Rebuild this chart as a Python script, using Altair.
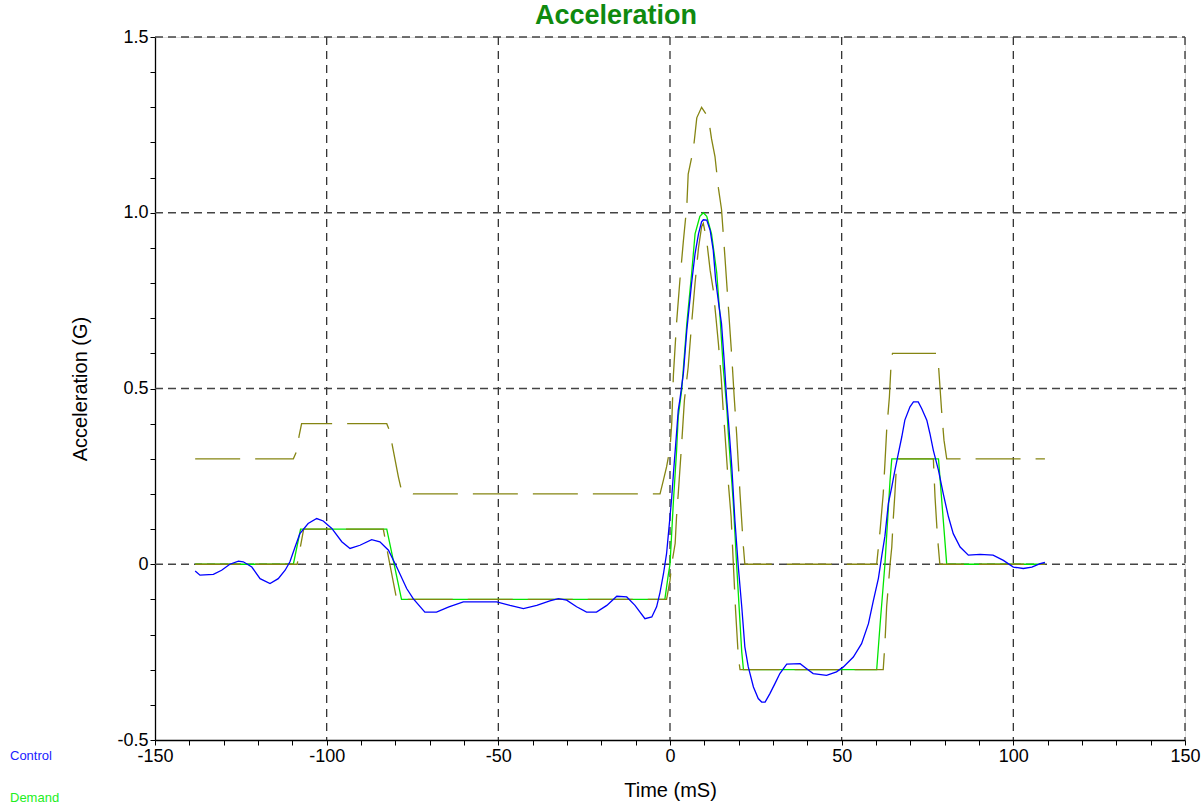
import altair as alt
import pandas as pd
import numpy as np

# ---- data ----
demand_t = [-138.3, -109.7, -107.6, -82.5, -78.2, -1.5, -0.5, 0.0, 1.0, 1.9, 2.4, 3.4, 4.9, 6.3, 7.3, 8.7, 9.7,
            10.7, 12.1, 13.6, 14.6, 15.5, 16.5, 17.0, 18.4, 19.4, 20.9, 21.4, 60.2, 61.2, 62.6, 64.1, 64.6,
            78.2, 80.6, 109.2]
demand_v = [0.0, 0.0, 0.1, 0.1, -0.1, -0.1, -0.03, 0.0, 0.18, 0.32, 0.42, 0.495, 0.685, 0.827, 0.94, 0.99, 1.0,
            0.99, 0.94, 0.83, 0.70, 0.56, 0.45, 0.37, 0.18, 0.0, -0.25, -0.3, -0.3, -0.17, 0.0, 0.24, 0.3,
            0.3, 0.0, 0.0]

upper_t = [-138.3, -109.7, -108.8, -108.0, -107.3, -82.5, -81.7, -80.6, -79.1, -78.2, -74.8, -2.9, -1.9, -1.0,
           0.0, 0.5, 1.0, 1.9, 2.9, 3.9, 4.9, 5.3, 6.8, 7.8, 9.2, 11.2, 12.1, 13.1, 14.1, 15.0, 16.0, 17.0,
           18.0, 18.7, 19.4, 20.4, 21.3, 21.8, 60.2, 61.2, 62.1, 62.6, 63.1, 63.9, 64.3, 64.8, 77.5, 78.2,
           79.1, 79.8, 80.6, 109.2]
upper_v = [0.3, 0.3, 0.32, 0.367, 0.4, 0.4, 0.381, 0.324, 0.248, 0.21, 0.2, 0.2, 0.24, 0.277,
           0.33, 0.40, 0.54, 0.685, 0.81, 0.92, 1.02, 1.11, 1.18, 1.27, 1.30, 1.27, 1.21, 1.16, 1.07, 1.01,
           0.874, 0.732, 0.59, 0.476, 0.372, 0.2, 0.059, 0.0, 0.0, 0.097, 0.2, 0.287, 0.38, 0.476, 0.552,
           0.6, 0.6, 0.566, 0.438, 0.353, 0.3, 0.3]

lower_t = [-138.3, -108.6, -106.7, -83.5, -82.0, -79.6, -1.0, 0.0, 0.5, 1.5, 1.9, 2.4, 3.4, 4.2, 5.3, 6.3,
           7.3, 8.3, 9.2, 9.7, 10.7, 11.7, 12.6, 13.4, 14.1, 14.9, 15.5, 16.0, 17.0, 17.8, 18.4, 19.1,
           19.9, 20.4, 62.1, 62.6, 63.1, 64.1, 64.6, 65.0, 65.5, 66.0, 66.5, 76.7, 77.2, 77.9, 78.6, 109.2]
lower_v = [0.0, 0.0, 0.1, 0.1, 0.02, -0.1, -0.1, -0.046, 0.0, 0.059, 0.135, 0.2, 0.343, 0.467, 0.561, 0.685,
           0.80, 0.90, 0.96, 0.97, 0.92, 0.836, 0.78, 0.70, 0.628, 0.533, 0.438, 0.372, 0.23, 0.135, 0.011,
           -0.131, -0.264, -0.3, -0.3, -0.226, -0.121, 0.0, 0.049, 0.125, 0.2, 0.287, 0.3, 0.3, 0.19,
           0.078, 0.0, 0.0]

control_t = [-138.3, -136.9, -133.0, -130.6, -128.2, -125.7, -124.3, -121.8, -119.4, -116.5, -114.1, -112.1,
             -110.7, -109.2, -107.8, -105.4, -102.9, -101.0, -98.5, -95.6, -93.2, -90.3, -86.9, -84.5,
             -82.0, -79.6, -76.7, -74.8, -71.4, -68.0, -64.4, -60.2, -50.5, -46.6, -42.7, -38.8, -35.0,
             -32.5, -30.1, -27.2, -24.3, -21.4, -18.4, -15.5, -12.6, -10.2, -7.3, -5.3, -3.9, -2.9, -1.9,
             -1.0, -0.5, 0.0, 0.5, 1.0, 1.9, 2.4, 2.9, 3.9, 4.9, 6.3, 7.3, 8.3, 9.2, 9.7, 10.7, 11.7, 12.6,
             13.3, 14.3, 15.0, 15.7, 16.5, 17.0, 18.0, 18.9, 19.9, 20.9, 21.8, 22.8, 24.3, 25.7, 26.7,
             27.7, 29.1, 30.6, 32.0, 34.0, 37.9, 39.8, 41.7, 45.6, 48.5, 50.5, 53.4, 55.8, 57.8, 59.2,
             60.7, 61.7, 62.6, 63.6, 64.6, 65.5, 66.5, 67.5, 68.4, 69.9, 70.9, 72.3, 73.3, 74.8, 75.7,
             76.7, 78.2, 79.6, 81.1, 82.5, 84.5, 86.9, 90.3, 94.1, 97.1, 100.0, 102.9, 105.4, 107.8, 109.2]
control_v = [-0.019, -0.031, -0.029, -0.017, 0.0, 0.009, 0.007, -0.008, -0.041, -0.055, -0.041, -0.017,
             0.007, 0.049, 0.087, 0.116, 0.130, 0.123, 0.102, 0.064, 0.045, 0.054, 0.070, 0.064,
             0.040, -0.008, -0.069, -0.098, -0.136, -0.136, -0.121, -0.107, -0.107, -0.117, -0.126, -0.117,
             -0.104, -0.098, -0.102, -0.121, -0.136, -0.136, -0.117, -0.091, -0.093, -0.117, -0.155, -0.150,
             -0.121, -0.08, -0.027, 0.030, 0.083, 0.135, 0.19, 0.258, 0.372, 0.438, 0.47, 0.543, 0.666,
             0.80, 0.884, 0.94, 0.974, 0.98, 0.979, 0.95, 0.893, 0.808, 0.732, 0.685, 0.59, 0.47, 0.41,
             0.277, 0.125, -0.008, -0.121, -0.235, -0.292, -0.349, -0.382, -0.392, -0.392, -0.368, -0.339,
             -0.311, -0.284, -0.283, -0.297, -0.311, -0.316, -0.306, -0.292, -0.264, -0.226, -0.169, -0.105,
             -0.04, 0.025, 0.08, 0.173, 0.22, 0.267, 0.315, 0.362, 0.41, 0.448, 0.462, 0.462, 0.443, 0.41,
             0.372, 0.324, 0.267, 0.20, 0.135, 0.087, 0.049, 0.026, 0.028, 0.026, 0.011, -0.008, -0.012,
             -0.008, 0.002, 0.005]

x_grid = [-100, -50, 0, 50, 100, 150]
y_grid = [0.0, 0.5, 1.0, 1.5]
x_ticks = list(range(-150, 151, 10))
y_ticks = [round(v, 1) for v in np.arange(-0.5, 1.51, 0.1)]

W, H = 1030, 703
FONT = "Liberation Sans"

xs = alt.Scale(domain=[-150, 150], nice=False, zero=False)
ys = alt.Scale(domain=[-0.5, 1.5], nice=False, zero=False)

def series(t, v):
    return pd.DataFrame({"t": t, "v": v})

x_axis = alt.Axis(values=x_ticks, labelExpr="datum.value % 50 == 0 ? '' + datum.value : ''",
                  grid=False, tickSize=5, tickColor="black", domainColor="black", domainWidth=1.3,
                  labelFontSize=18, labelFont=FONT, labelColor="black", labelPadding=2,
                  title="Time (mS)", titleFontSize=20, titleFont=FONT, titleFontWeight="normal",
                  titleColor="black", titleX=W / 2, titleY=40, titleBaseline="top", labelFlush=False)
y_axis = alt.Axis(values=y_ticks,
                  labelExpr="abs(datum.value*2 - round(datum.value*2)) < 0.001 ? (abs(datum.value) < 0.001 ? '0' : (datum.value < 0 ? '-' + format(-datum.value, '.1f') : format(datum.value, '.1f'))) : ''",
                  grid=False, tickSize=5, tickColor="black", domainColor="black", domainWidth=1.3,
                  labelFontSize=18, labelFont=FONT, labelColor="black", labelPadding=2,
                  title="Acceleration (G)", titleFontSize=20, titleFont=FONT, titleFontWeight="normal",
                  titleColor="black", titleX=-75, titleY=H / 2, titleAngle=-90, titleBaseline="middle",
                  titleAlign="center", labelFlush=False)

base_x = alt.X("t:Q", scale=xs, axis=x_axis)
base_y = alt.Y("v:Q", scale=ys, axis=y_axis)

vgrid = alt.Chart(pd.DataFrame({"g": x_grid})).mark_rule(
    color="#333333", strokeDash=[8, 6], strokeWidth=1.3).encode(
    x=alt.X("g:Q", scale=xs, axis=x_axis), y=alt.value(0), y2=alt.value(H))
hgrid = alt.Chart(pd.DataFrame({"g": y_grid})).mark_rule(
    color="#444444", strokeDash=[8, 5], strokeWidth=1.3).encode(
    y=alt.Y("g:Q", scale=ys, axis=y_axis), x=alt.value(0), x2=alt.value(W))

green = alt.Chart(series(demand_t, demand_v)).mark_line(color="#00e600", strokeWidth=1.3).encode(
    x=base_x, y=base_y, order="t:Q")
upper = alt.Chart(series(upper_t, upper_v)).mark_line(
    color="#858512", strokeWidth=1.3, strokeDash=[45, 15]).encode(x=base_x, y=base_y)
lower = alt.Chart(series(lower_t, lower_v)).mark_line(
    color="#858512", strokeWidth=1.3, strokeDash=[45, 15]).encode(x=base_x, y=base_y)
blue = alt.Chart(series(control_t, control_v)).mark_line(
    color="#0000ff", strokeWidth=1.3).encode(x=base_x, y=base_y)

title = alt.Chart(pd.DataFrame({"s": ["Acceleration"]})).mark_text(
    font=FONT, fontSize=27, fontWeight="bold", color="#0f8a0f", align="center", baseline="middle").encode(
    text="s:N", x=alt.value(461), y=alt.value(-21))
legend = alt.Chart(pd.DataFrame({"s": ["Control", "Demand"], "c": ["#2020ff", "#22ee22"],
                                 "py": [719, 761]})).mark_text(
    font=FONT, fontSize=13, align="left", baseline="middle").encode(
    text="s:N", x=alt.value(-145), y=alt.Y("py:Q", scale=None), color=alt.Color("c:N", scale=None))

chart = alt.layer(vgrid, hgrid, green, upper, lower, blue, title, legend).properties(
    width=W, height=H,
    autosize=alt.AutoSizeParams(type="none"),
    padding={"left": 155, "top": 37, "right": 18, "bottom": 65},
).configure_view(stroke=None).configure(background="white")

chart.save("out.html", embed_options={"renderer": "svg", "actions": False})
